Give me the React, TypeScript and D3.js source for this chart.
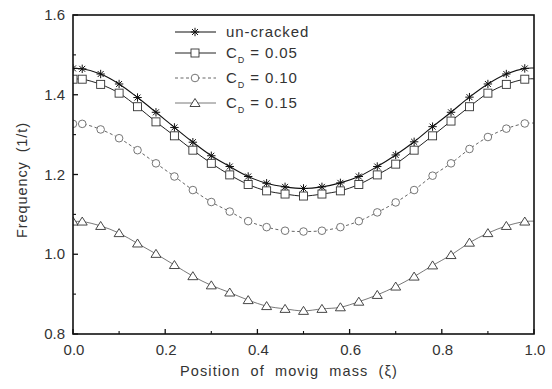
import React from "react";
import * as d3 from "d3";

// positions of the moving mass (ξ); the last point only carries the line to the axis
const xs = [0, 0.02, 0.06, 0.1, 0.14, 0.18, 0.22, 0.26, 0.3, 0.34, 0.38, 0.42, 0.46, 0.5,
  0.54, 0.58, 0.62, 0.66, 0.7, 0.74, 0.78, 0.82, 0.86, 0.9, 0.94, 0.98, 1.0];

const unCracked = [1.466, 1.465, 1.452, 1.427, 1.393, 1.356, 1.318, 1.281, 1.247, 1.220, 1.195, 1.178, 1.169, 1.165,
  1.169, 1.179, 1.195, 1.220, 1.249, 1.282, 1.320, 1.356, 1.394, 1.427, 1.452, 1.466, 1.467];
const cd005 = [1.439, 1.439, 1.426, 1.404, 1.370, 1.332, 1.297, 1.261, 1.228, 1.199, 1.175, 1.159, 1.151, 1.146,
  1.151, 1.159, 1.175, 1.199, 1.226, 1.261, 1.297, 1.334, 1.370, 1.404, 1.426, 1.439, 1.440];
const cd010 = [1.327, 1.327, 1.313, 1.291, 1.261, 1.228, 1.195, 1.161, 1.131, 1.107, 1.083, 1.068, 1.059, 1.057,
  1.059, 1.068, 1.083, 1.105, 1.130, 1.161, 1.197, 1.228, 1.264, 1.294, 1.315, 1.328, 1.329];
const cd015 = [1.082, 1.082, 1.071, 1.053, 1.027, 1.001, 0.973, 0.945, 0.922, 0.904, 0.885, 0.870, 0.863, 0.858,
  0.863, 0.867, 0.881, 0.898, 0.919, 0.944, 0.972, 0.998, 1.029, 1.053, 1.071, 1.082, 1.083];

const xTicks = [0, 0.2, 0.4, 0.6, 0.8, 1.0];
const yTicks = [0.8, 1.0, 1.2, 1.4, 1.6];

const W = 552, H = 389;
const m = { left: 73, right: 18, top: 15, bottom: 55 };
const FONT = "'Liberation Sans', Arial, sans-serif";

const series = [
  { key: "u", label: "un-cracked", sub: "", values: unCracked, marker: "star", dash: "", stroke: "#111", sw: 1.1 },
  { key: "a", label: "C", sub: "D", tail: " = 0.05", values: cd005, marker: "square", dash: "", stroke: "#222", sw: 1 },
  { key: "b", label: "C", sub: "D", tail: " = 0.10", values: cd010, marker: "circle", dash: "3,2.5", stroke: "#666", sw: 1 },
  { key: "c", label: "C", sub: "D", tail: " = 0.15", values: cd015, marker: "triangle", dash: "", stroke: "#555", sw: 0.8 },
];

function Marker({ type, x, y }: { type: string; x: number; y: number }) {
  const st = { fill: "#fff", stroke: "#333", strokeWidth: 0.9 };
  if (type === "square") return <rect x={x - 4} y={y - 4} width={8} height={8} {...st} />;
  if (type === "circle") return <circle cx={x} cy={y} r={3.8} {...st} stroke="#666" />;
  if (type === "triangle") return <path d={`M${x},${y - 4.5}L${x + 5},${y + 3.5}L${x - 5},${y + 3.5}Z`} {...st} />;
  const r = 4.2;
  const d = [0, 45, 90, 135].map((a) => {
    const t = (a * Math.PI) / 180;
    return `M${x - r * Math.cos(t)},${y - r * Math.sin(t)}L${x + r * Math.cos(t)},${y + r * Math.sin(t)}`;
  }).join("");
  return <path d={d} stroke="#111" strokeWidth={1} fill="none" />;
}

export default function App() {
  const x = d3.scaleLinear().domain([0, 1]).range([m.left, W - m.right]);
  const y = d3.scaleLinear().domain([0.8, 1.6]).range([H - m.bottom, m.top]);
  const line = d3.line<number>().x((_, i) => x(xs[i])).y((d) => y(d)).curve(d3.curveCatmullRom);
  const x0 = m.left, x1 = W - m.right, y0 = H - m.bottom, y1 = m.top;
  const xMinor = d3.range(1, 10, 2).map((i) => i / 10);
  const yMinor = [0.9, 1.1, 1.3, 1.5];

  return (
    <svg width={W} height={H} style={{ position: "absolute", left: 0, top: 0, background: "#fff" }} fontFamily={FONT}>
      <defs>
        <clipPath id="plot"><rect x={x0} y={y1} width={x1 - x0} height={y0 - y1} /></clipPath>
      </defs>
      <g clipPath="url(#plot)">
        {series.map((s) => (
          <path key={s.key} d={line(s.values) || ""} fill="none" stroke={s.stroke} strokeWidth={s.sw} strokeDasharray={s.dash} />
        ))}
        {series.map((s) => (
          <g key={s.key}>
            {s.values.map((v, i) => (xs[i] < 1 ? <Marker key={i} type={s.marker} x={x(xs[i])} y={y(v)} /> : null))}
          </g>
        ))}
      </g>
      {/* frame */}
      <rect x={x0} y={y1} width={x1 - x0} height={y0 - y1} fill="none" stroke="#111" strokeWidth={1.6} />
      {/* x ticks */}
      {xTicks.map((t) => (
        <g key={t}>
          <line x1={x(t)} x2={x(t)} y1={y0} y2={y0 - 5} stroke="#111" strokeWidth={1.3} />
          <text x={x(t) + 1} y={y0 + 21} textAnchor="middle" fontSize={15} fill="#333">{t.toFixed(1)}</text>
        </g>
      ))}
      {xMinor.map((t) => (
        <line key={t} x1={x(t)} x2={x(t)} y1={y0} y2={y0 - 3} stroke="#111" strokeWidth={1.1} />
      ))}
      {/* y ticks */}
      {yTicks.map((t) => (
        <g key={t}>
          <line x1={x0} x2={x0 + 5} y1={y(t)} y2={y(t)} stroke="#111" strokeWidth={1.3} />
          <text x={x0 - 8} y={y(t) + 5} textAnchor="end" fontSize={15} fill="#333">{t.toFixed(1)}</text>
        </g>
      ))}
      {yMinor.map((t) => (
        <line key={t} x1={x0} x2={x0 + 3} y1={y(t)} y2={y(t)} stroke="#111" strokeWidth={1.1} />
      ))}
      {/* axis titles */}
      <text x={289} y={H - 13} textAnchor="middle" fontSize={14.5} letterSpacing={1.1} wordSpacing={5} fill="#333">
        Position of movig mass (ξ)
      </text>
      <text transform={`translate(27,180) rotate(-90)`} textAnchor="middle" fontSize={14.5} letterSpacing={0.9} wordSpacing={4} fill="#333">
        Frequency (1/t)
      </text>
      {/* legend */}
      {series.map((s, i) => {
        const ly = [32, 53, 78, 103][i];
        return (
          <g key={s.key}>
            <line x1={175} x2={216} y1={ly} y2={ly} stroke={s.stroke} strokeWidth={s.sw} strokeDasharray={s.dash} />
            <Marker type={s.marker} x={195} y={ly} />
            <text x={226} y={ly + 5} fontSize={15} letterSpacing={0.9} fill="#333">
              {s.label}
              {s.sub ? <tspan fontSize={9} dy={5}>{s.sub}</tspan> : null}
              {s.sub ? <tspan dy={-5}>{s.tail}</tspan> : null}
            </text>
          </g>
        );
      })}
    </svg>
  );
}
